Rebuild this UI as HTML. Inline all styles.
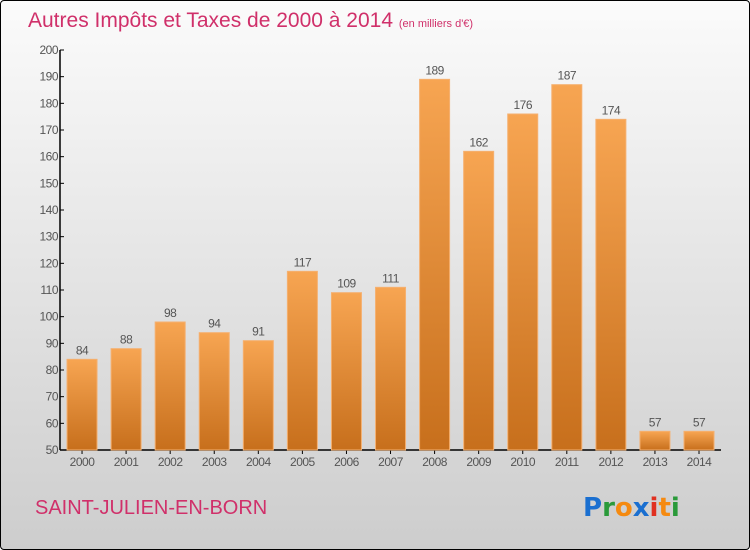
<!DOCTYPE html>
<html><head><meta charset="utf-8"><style>
body{margin:0;width:750px;height:550px;overflow:hidden;font-family:"Liberation Sans",sans-serif}
#frame{position:absolute;left:0;top:0;width:748px;height:548px;border:1px solid #000;border-radius:4px;background:linear-gradient(#fbfbfb,#cdcdcd)}
</style></head><body>
<div id="frame"></div>
<svg id="chart" width="750" height="550" style="position:absolute;left:0;top:0">
<defs>
<linearGradient id="barg" x1="0" y1="0" x2="0" y2="1"><stop offset="0" stop-color="#f7a552"/><stop offset="1" stop-color="#c76f1c"/></linearGradient>
</defs>
<text x="28" y="27" font-size="21" fill="#d0306a">Autres Impôts et Taxes de 2000 à 2014 <tspan font-size="11">(en milliers d'€)</tspan></text>
<text x="35" y="514" font-size="20" fill="#d0306a">SAINT-JULIEN-EN-BORN</text>
<g font-size="26" font-family="'DejaVu Sans',sans-serif" font-weight="bold">
<text x="583" y="516" fill="#1a6fd0">P<tspan fill="#2a9a3a">r</tspan><tspan fill="#f58a10">o</tspan><tspan fill="#1a6fd0">x</tspan><tspan fill="#e03020">i</tspan><tspan fill="#f58a10">t</tspan><tspan fill="#2a9a3a">i</tspan></text>
</g>
<g id="axes"></g><g id="bars"></g>
</svg>
<script>
const years=["2000","2001","2002","2003","2004","2005","2006","2007","2008","2009","2010","2011","2012","2013","2014"];
const values=[84,88,98,94,91,117,109,111,189,162,176,187,174,57,57];
const yTicks=[50,60,70,80,90,100,110,120,130,140,150,160,170,180,190,200];
const ns="http://www.w3.org/2000/svg";
const x0=60,step=44.07,yMin=50,yMax=200,plotTop=50,plotBot=450;
const y=v=>plotBot-(v-yMin)/(yMax-yMin)*(plotBot-plotTop);
const xc=i=>x0+step*(i+0.5);
function mk(t,a,p){const e=document.createElementNS(ns,t);for(const k in a)e.setAttribute(k,a[k]);p.appendChild(e);return e;}
const ax=document.getElementById('axes'),bg=document.getElementById('bars');
let l=mk('line',{x1:x0,y1:plotTop,x2:x0,y2:plotBot,stroke:'#000','stroke-width':1.5},ax);


l=mk('line',{x1:x0,y1:plotBot,x2:721,y2:plotBot,stroke:'#000','stroke-width':1.5},ax);


yTicks.forEach(v=>{
  mk('line',{x1:x0,y1:y(v),x2:x0+4,y2:y(v),stroke:'#000'},ax);
  const t=mk('text',{x:x0-2,y:y(v)+4,'font-size':12,fill:'#555','text-anchor':'end','letter-spacing':'-0.5'},ax);
  t.textContent=v;
  
  
});
values.forEach((v,i)=>{
  const r=mk('rect',{x:xc(i)-15,y:y(v),width:30,height:plotBot-y(v),fill:'url(#barg)',stroke:'#f5b070','stroke-width':1},bg);
  
  
  const t=mk('text',{x:xc(i),y:y(v)-5,'font-size':12,fill:'#555','text-anchor':'middle','letter-spacing':'-0.5'},bg);
  t.textContent=v;
  
  
  mk('line',{x1:xc(i),y1:plotBot,x2:xc(i),y2:plotBot+4,stroke:'#000'},ax);
  const xl=mk('text',{x:xc(i),y:plotBot+16,'font-size':12,fill:'#555','text-anchor':'middle','letter-spacing':'-0.5'},ax);
  xl.textContent=years[i];
  
  
});
</script>
</body></html>
